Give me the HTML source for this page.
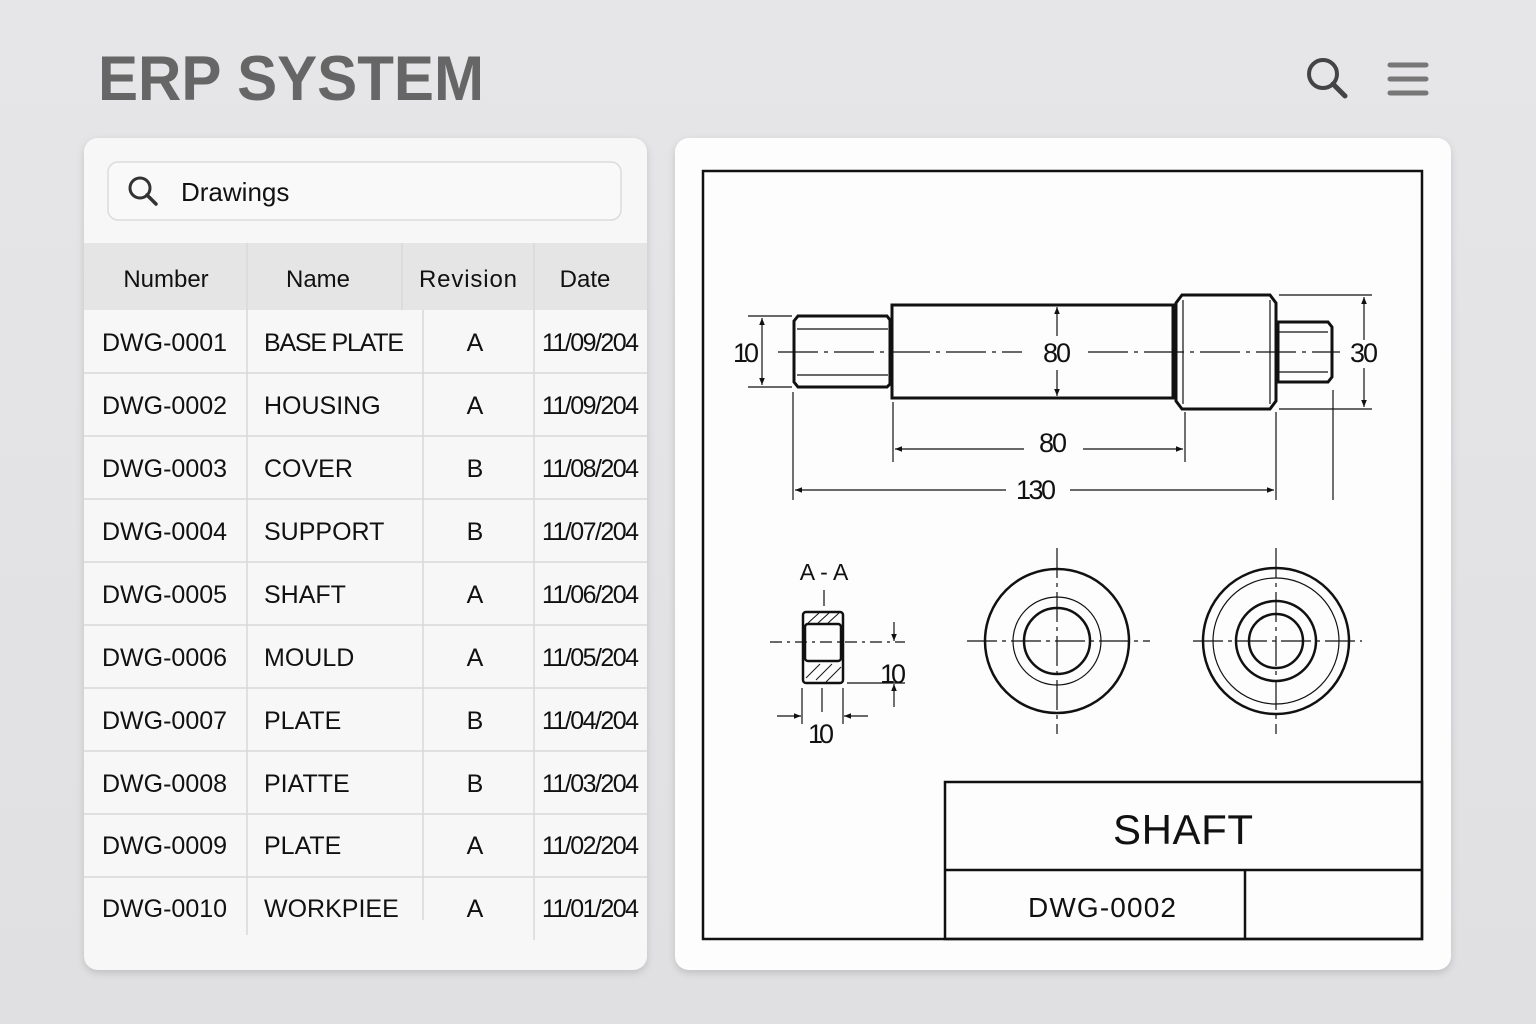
<!DOCTYPE html>
<html><head><meta charset="utf-8"><style>
html,body{margin:0;padding:0;background:#e4e4e6;}
svg{display:block;font-family:"Liberation Sans",sans-serif;}
</style></head><body>
<svg width="1536" height="1024" viewBox="0 0 1536 1024" xmlns="http://www.w3.org/2000/svg">
<defs>
<linearGradient id="bg" x1="0" y1="0" x2="0" y2="1"><stop offset="0" stop-color="#e6e6e8"/><stop offset="1" stop-color="#e0e0e2"/></linearGradient>
<filter id="sh" x="-5%" y="-5%" width="110%" height="110%"><feDropShadow dx="0" dy="3" stdDeviation="4" flood-color="#000" flood-opacity="0.15"/></filter>
<marker id="ar" viewBox="0 0 10 10" refX="10" refY="5" markerWidth="12" markerHeight="7" orient="auto-start-reverse" markerUnits="userSpaceOnUse"><path d="M0,1 L10,5 L0,9 Z" fill="#111"/></marker>
</defs>
<rect width="1536" height="1024" fill="url(#bg)"/>
<text x="98" y="100" font-size="63" font-weight="bold" fill="#666" textLength="386" lengthAdjust="spacingAndGlyphs">ERP SYSTEM</text>
<circle cx="1323" cy="74" r="14" fill="none" stroke="#444" stroke-width="4"/>
<line x1="1333" y1="84" x2="1345" y2="96" stroke="#444" stroke-width="5" stroke-linecap="round"/>
<g stroke="#777" stroke-width="5" stroke-linecap="round"><line x1="1390" y1="65" x2="1426" y2="65"/><line x1="1390" y1="79" x2="1426" y2="79"/><line x1="1390" y1="93" x2="1426" y2="93"/></g>

<rect x="84" y="138" width="563" height="832" rx="14" fill="#f7f7f7" filter="url(#sh)"/>
<rect x="108" y="162" width="513" height="58" rx="10" fill="#f9f9f9" stroke="#dcdcdc" stroke-width="1.5"/>
<circle cx="140" cy="188" r="10" fill="none" stroke="#333" stroke-width="3"/>
<line x1="147" y1="195" x2="156" y2="204" stroke="#333" stroke-width="3.5" stroke-linecap="round"/>
<text x="181" y="201" font-size="26" fill="#111">Drawings</text>
<rect x="84" y="243" width="563" height="67" fill="#e5e5e5"/>
<g stroke="#d8d8d8" stroke-width="1.5">
<line x1="247" y1="243" x2="247" y2="310"/><line x1="402" y1="243" x2="402" y2="310"/><line x1="534" y1="243" x2="534" y2="310"/>
<line x1="247" y1="310" x2="247" y2="935"/><line x1="423" y1="310" x2="423" y2="920"/><line x1="534" y1="310" x2="534" y2="940"/>
<line x1="84" y1="373" x2="647" y2="373"/><line x1="84" y1="436" x2="647" y2="436"/><line x1="84" y1="499" x2="647" y2="499"/>
<line x1="84" y1="562" x2="647" y2="562"/><line x1="84" y1="625" x2="647" y2="625"/><line x1="84" y1="688" x2="647" y2="688"/>
<line x1="84" y1="751" x2="647" y2="751"/><line x1="84" y1="814" x2="647" y2="814"/><line x1="84" y1="877" x2="647" y2="877"/>
</g>
<g font-size="24" fill="#111">
<text x="166" y="287" text-anchor="middle">Number</text><text x="318" y="287" text-anchor="middle">Name</text>
<text x="468" y="287" text-anchor="middle" textLength="98">Revision</text><text x="585" y="287" text-anchor="middle">Date</text>
</g>
<g font-size="25" fill="#111">
<text x="102" y="351">DWG-0001</text><text x="264" y="351" textLength="140">BASE PLATE</text><text x="475" y="351" text-anchor="middle">A</text><text x="542" y="351" textLength="97">11/09/204</text>
<text x="102" y="414">DWG-0002</text><text x="264" y="414">HOUSING</text><text x="475" y="414" text-anchor="middle">A</text><text x="542" y="414" textLength="97">11/09/204</text>
<text x="102" y="477">DWG-0003</text><text x="264" y="477">COVER</text><text x="475" y="477" text-anchor="middle">B</text><text x="542" y="477" textLength="97">11/08/204</text>
<text x="102" y="540">DWG-0004</text><text x="264" y="540">SUPPORT</text><text x="475" y="540" text-anchor="middle">B</text><text x="542" y="540" textLength="97">11/07/204</text>
<text x="102" y="603">DWG-0005</text><text x="264" y="603">SHAFT</text><text x="475" y="603" text-anchor="middle">A</text><text x="542" y="603" textLength="97">11/06/204</text>
<text x="102" y="666">DWG-0006</text><text x="264" y="666">MOULD</text><text x="475" y="666" text-anchor="middle">A</text><text x="542" y="666" textLength="97">11/05/204</text>
<text x="102" y="729">DWG-0007</text><text x="264" y="729">PLATE</text><text x="475" y="729" text-anchor="middle">B</text><text x="542" y="729" textLength="97">11/04/204</text>
<text x="102" y="792">DWG-0008</text><text x="264" y="792">PIATTE</text><text x="475" y="792" text-anchor="middle">B</text><text x="542" y="792" textLength="97">11/03/204</text>
<text x="102" y="854">DWG-0009</text><text x="264" y="854">PLATE</text><text x="475" y="854" text-anchor="middle">A</text><text x="542" y="854" textLength="97">11/02/204</text>
<text x="102" y="917">DWG-0010</text><text x="264" y="917">WORKPIEE</text><text x="475" y="917" text-anchor="middle">A</text><text x="542" y="917" textLength="97">11/01/204</text>
</g>

<rect x="675" y="138" width="776" height="832" rx="14" fill="#fdfdfd" filter="url(#sh)"/>
<rect x="703" y="171" width="719" height="768" fill="none" stroke="#111" stroke-width="2.5"/>

<g fill="none" stroke="#111" stroke-width="3">
<path d="M798,316 L887,316 L890,320 L890,384 L887,387 L798,387 L794,382 L794,321 Z"/>
<path d="M892,305 L1173,305 L1173,398 L892,398 Z"/>
<path d="M1182,295 L1270,295 L1276,303 L1276,401 L1270,409 L1182,409 L1176,401 L1176,303 Z"/>
<path d="M1278,322 L1328,322 L1332,327 L1332,377 L1328,382 L1278,382 Z"/>
</g>
<g stroke="#111" stroke-width="1.2" fill="none">
<line x1="797" y1="329" x2="888" y2="329"/><line x1="797" y1="375" x2="888" y2="375"/>
<line x1="1183" y1="300" x2="1183" y2="404"/><line x1="1270" y1="300" x2="1270" y2="404"/>
<line x1="1278" y1="332" x2="1328" y2="332"/><line x1="1278" y1="372" x2="1328" y2="372"/>
<line x1="778" y1="352" x2="1022" y2="352" stroke-dasharray="40,6,4,6"/>
<line x1="1088" y1="352" x2="1340" y2="352" stroke-dasharray="40,6,4,6"/>
<line x1="748" y1="316" x2="792" y2="316"/><line x1="748" y1="387" x2="792" y2="387"/>
<line x1="762" y1="318" x2="762" y2="385" marker-start="url(#ar)" marker-end="url(#ar)"/>
<line x1="1279" y1="295" x2="1372" y2="295"/><line x1="1279" y1="409" x2="1372" y2="409"/>
<line x1="1364" y1="297" x2="1364" y2="340" marker-start="url(#ar)"/><line x1="1364" y1="368" x2="1364" y2="407" marker-end="url(#ar)"/>
<line x1="1057" y1="307" x2="1057" y2="336" marker-start="url(#ar)"/><line x1="1057" y1="370" x2="1057" y2="396" marker-end="url(#ar)"/>
<line x1="893" y1="402" x2="893" y2="462"/><line x1="1185" y1="412" x2="1185" y2="462"/>
<line x1="895" y1="449" x2="1024" y2="449" marker-start="url(#ar)"/><line x1="1083" y1="449" x2="1183" y2="449" marker-end="url(#ar)"/>
<line x1="793" y1="392" x2="793" y2="500"/><line x1="1276" y1="412" x2="1276" y2="500"/><line x1="1333" y1="390" x2="1333" y2="500"/>
<line x1="795" y1="490" x2="1006" y2="490" marker-start="url(#ar)"/><line x1="1070" y1="490" x2="1274" y2="490" marker-end="url(#ar)"/>
</g>
<g font-size="27" fill="#111" text-anchor="middle">
<text x="746" y="362" textLength="26">10</text><text x="1364" y="362" textLength="28">30</text><text x="1057" y="362" textLength="28">80</text>
<text x="1053" y="452" textLength="28">80</text><text x="1036" y="499" textLength="40">130</text>
</g>

<text x="824" y="580" font-size="23" fill="#111" text-anchor="middle">A - A</text>
<g fill="none" stroke="#111">
<line x1="824" y1="590" x2="824" y2="606" stroke-width="1.2"/>
<rect x="803" y="612" width="40" height="71" rx="3" stroke-width="2.5"/>
<rect x="805" y="624" width="36" height="37" rx="3" stroke-width="2.5"/>
<g stroke-width="1"><line x1="808" y1="623" x2="819" y2="613"/><line x1="818" y1="623" x2="829" y2="613"/><line x1="828" y1="623" x2="839" y2="613"/>
<line x1="806" y1="678" x2="820" y2="664"/><line x1="816" y1="680" x2="832" y2="664"/><line x1="826" y1="682" x2="841" y2="667"/></g>
<g stroke-width="1.2">
<line x1="770" y1="642" x2="905" y2="642" stroke-dasharray="12,5,3,5"/>
<line x1="847" y1="683" x2="905" y2="683"/>
<line x1="894" y1="622" x2="894" y2="641" marker-end="url(#ar)"/>
<line x1="894" y1="707" x2="894" y2="684" marker-end="url(#ar)"/>
<line x1="802" y1="688" x2="802" y2="724"/><line x1="843" y1="688" x2="843" y2="724"/><line x1="822" y1="688" x2="822" y2="712"/>
<line x1="777" y1="716" x2="801" y2="716" marker-end="url(#ar)"/><line x1="868" y1="716" x2="844" y2="716" marker-end="url(#ar)"/>
</g>
</g>
<g font-size="27" fill="#111" text-anchor="middle"><text x="893" y="683" textLength="26">10</text><text x="821" y="743" textLength="26">10</text></g>

<g fill="none" stroke="#111">
<circle cx="1057" cy="641" r="72" stroke-width="2.5"/>
<circle cx="1057" cy="641" r="44" stroke-width="1.2"/>
<circle cx="1057" cy="641" r="33" stroke-width="2.5"/>
<line x1="967" y1="641" x2="1150" y2="641" stroke-width="1.2" stroke-dasharray="30,5,4,5"/>
<line x1="1057" y1="548" x2="1057" y2="734" stroke-width="1.2" stroke-dasharray="30,5,4,5"/>
<circle cx="1276" cy="641" r="73" stroke-width="2.5"/>
<circle cx="1276" cy="641" r="63" stroke-width="1.2"/>
<circle cx="1276" cy="641" r="40" stroke-width="2.5"/>
<circle cx="1276" cy="641" r="27" stroke-width="2.5"/>
<line x1="1193" y1="641" x2="1362" y2="641" stroke-width="1.2" stroke-dasharray="30,5,4,5"/>
<line x1="1276" y1="548" x2="1276" y2="734" stroke-width="1.2" stroke-dasharray="30,5,4,5"/>
</g>

<g fill="none" stroke="#111" stroke-width="2.5">
<rect x="945" y="782" width="477" height="157"/>
<line x1="945" y1="870" x2="1422" y2="870"/>
<line x1="1245" y1="870" x2="1245" y2="939"/>
</g>
<text x="1183" y="844" font-size="42" fill="#111" text-anchor="middle" textLength="140">SHAFT</text>
<text x="1102" y="917" font-size="28" fill="#111" text-anchor="middle" textLength="148">DWG-0002</text>
</svg>
</body></html>
